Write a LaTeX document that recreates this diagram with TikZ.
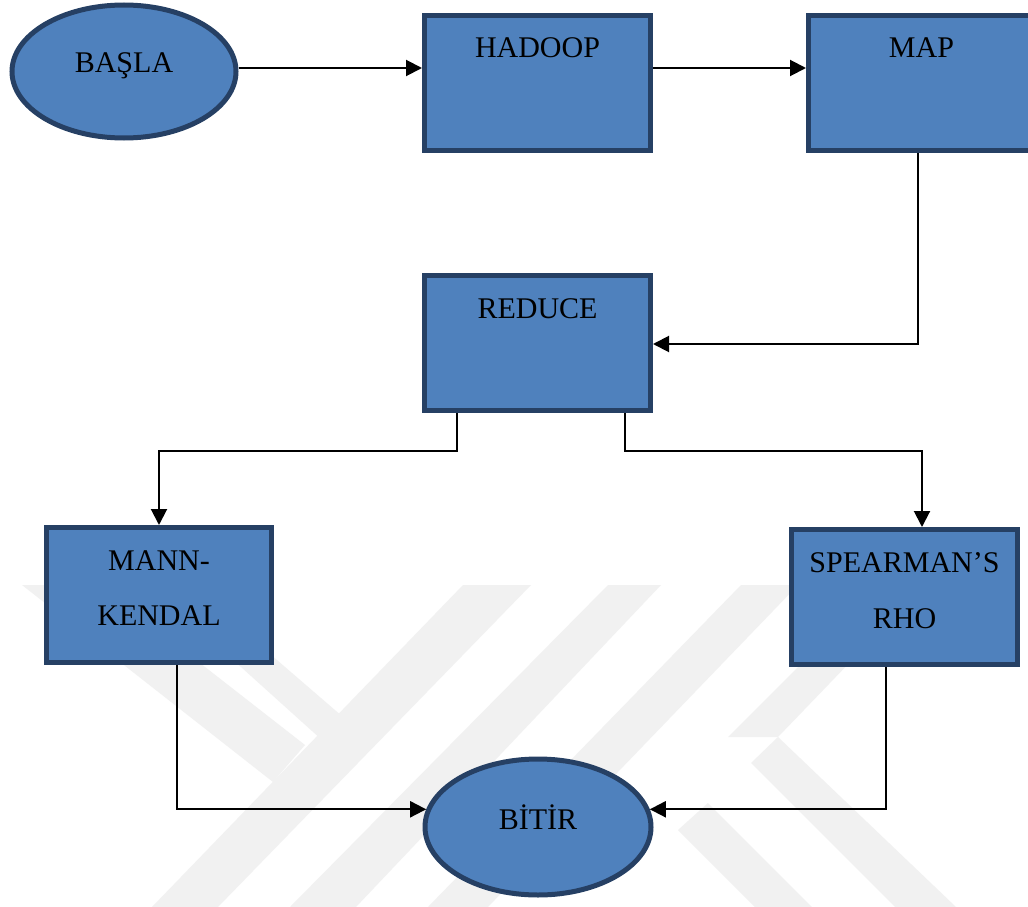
\documentclass[tikz,border=0pt]{standalone}
\usepackage{fontspec}
\setmainfont{Liberation Serif}
\usetikzlibrary{shapes.geometric,arrows.meta,calc}
\definecolor{boxfill}{RGB}{79,129,189}
\definecolor{boxline}{RGB}{38,64,100}
\definecolor{wm}{RGB}{241,241,241}
\tikzset{
  box/.style={rectangle,draw=boxline,fill=boxfill,line width=5pt,minimum width=226pt,minimum height=135pt,inner sep=0pt},
  oval/.style={ellipse,draw=boxline,fill=boxfill,line width=5pt,inner sep=0pt},
  lbl/.style={anchor=base,font=\fontsize{30}{34}\selectfont,inner sep=0pt},
  arr/.style={line width=2pt,-{Triangle[length=16pt,width=16pt]}},
  wmark/.style={fill=wm,draw=none}
}
\begin{document}
\begin{tikzpicture}[x=1pt,y=-1pt]
\useasboundingbox (0,0) rectangle (1028,907);
\clip (0,0) rectangle (1028,907);
\fill[white] (0,0) rectangle (1028,907);
% watermark
\fill[wmark] (463,585) -- (531,585) -- (218,907) -- (152,907) -- cycle;
\fill[wmark] (608,585) -- (661,585) -- (356,907) -- (290,907) -- cycle;
\fill[wmark] (741,585) -- (798,585) -- (488,907) -- (428,907) -- cycle;
\fill[wmark] (22,585) -- (100,585) -- (305,745) -- (273,782) -- cycle;
\fill[wmark] (150,585) -- (190,585) -- (343,717) -- (322,740) -- cycle;
\fill[wmark] (860,605) -- (905,605) -- (778,737) -- (728,737) -- cycle;
\fill[wmark] (778,737) -- (751,763) -- (895,907) -- (956,907) -- cycle;
\fill[wmark] (708,803) -- (678,830) -- (755,907) -- (812,907) -- cycle;
% shapes
\node[oval,minimum width=224pt,minimum height=133pt] (basla) at (124,71.5) {};
\node[box] (hadoop) at (537.5,83) {};
\node[box] (map) at (921.5,83) {};
\node[box] (reduce) at (537.5,343) {};
\node[box,minimum width=225pt] (mann) at (159,595) {};
\node[box] (spear) at (904.5,597) {};
\node[oval,minimum width=226pt,minimum height=136pt] (bitir) at (538,827) {};
% labels
\node[lbl] (tbasla) at (124,73) {BAŞLA};
\node[lbl] (thadoop) at (537.5,58) {HADOOP};
\node[lbl] (tmap) at (921.5,58) {MAP};
\node[lbl] (treduce) at (537.5,318) {REDUCE};
\node[lbl] (tmann1) at (159,570) {MANN-};
\node[lbl] (tmann2) at (159,625) {KENDAL};
\node[lbl] (tspear1) at (904.5,572) {SPEARMAN’S};
\node[lbl] (tspear2) at (904.5,628) {RHO};
\node[lbl] (tbitir) at (538,829) {BİTİR};
% connectors
\coordinate (r1) at ($(reduce.south)+(-80.5,0)$);
\coordinate (r2) at ($(reduce.south)+(87.5,0)$);
\coordinate (m1) at ($(mann.south)+(18,0)$);
\coordinate (s1) at ($(spear.south)+(-18.5,0)$);
\coordinate (sn) at ($(spear.north)+(17.5,0)$);
\draw[arr] ($(basla.east)+(0,-3.5)$) -- ($(basla.east -| hadoop.west)+(0,-3.5)$);
\draw[arr] ($(basla.east -| hadoop.east)+(0,-3.5)$) -- ($(basla.east -| map.west)+(0,-3.5)$);
\draw[arr] ($(map.south)+(-4,0)$) |- ($(reduce.east)+(0,1)$);
\draw[arr] (r1) -- ++(0,38) -| (mann.north);
\draw[arr] (r2) -- ++(0,38) -| (sn);
\draw[arr] (m1) |- (bitir.171);
\draw[arr] (s1) |- (bitir.9);
\end{tikzpicture}
\end{document}
